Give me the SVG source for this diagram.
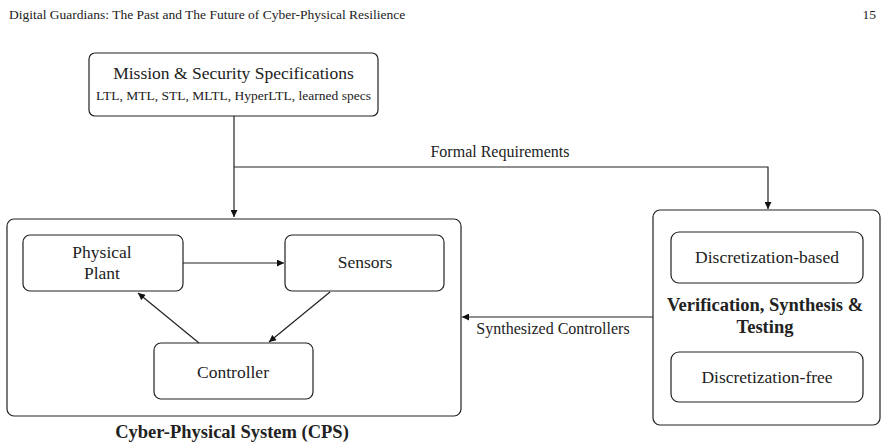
<svg xmlns="http://www.w3.org/2000/svg" width="888" height="447" viewBox="0 0 888 447">
<style>
text{font-family:'Liberation Serif','DejaVu Serif',serif;fill:#222}
.box{fill:#fff;stroke:#222;stroke-width:1.2}
.ln{fill:none;stroke:#222;stroke-width:1.2}
.n{font-size:17.5px;text-anchor:middle}
.b{font-size:18.5px;font-weight:bold;text-anchor:middle}
.l{font-size:16px}
</style>
<defs>
<marker id="ah" viewBox="0 0 10 10" refX="10" refY="5" markerWidth="8" markerHeight="7" markerUnits="userSpaceOnUse" orient="auto">
<path d="M0,0 L10,5 L0,10 z" fill="#111"/>
</marker>
</defs>
<rect width="888" height="447" fill="#fff"/>
<text x="9" y="19" font-size="13.5">Digital Guardians: The Past and The Future of Cyber-Physical Resilience</text>
<text x="876" y="19" font-size="13.5" text-anchor="end">15</text>

<g id="specs">
<rect class="box" x="89" y="53" width="289" height="63" rx="6"/>
<text class="n" x="233.5" y="79">Mission &amp; Security Specifications</text>
<text x="233.5" y="100" font-size="13.5" text-anchor="middle">LTL, MTL, STL, MLTL, HyperLTL, learned specs</text>
</g>

<g id="cps">
<rect class="box" x="7" y="219" width="454" height="197" rx="7"/>
<text class="b" x="232" y="438">Cyber-Physical System (CPS)</text>
</g>

<g id="plant">
<rect class="box" x="23" y="235" width="160" height="56" rx="7"/>
<text class="n" x="102" y="258">Physical</text>
<text class="n" x="102" y="279">Plant</text>
</g>

<g id="sensors">
<rect class="box" x="285" y="235" width="159" height="56" rx="7"/>
<text class="n" x="365" y="268">Sensors</text>
</g>

<g id="controller">
<rect class="box" x="154" y="343" width="159" height="56" rx="7"/>
<text class="n" x="233" y="378">Controller</text>
</g>

<g id="vst">
<rect class="box" x="653" y="210" width="227" height="215" rx="7"/>
<text class="b" x="765" y="311">Verification, Synthesis &amp;</text>
<text class="b" x="765" y="333">Testing</text>
</g>

<g id="disc-based">
<rect class="box" x="671" y="232" width="192" height="51" rx="8"/>
<text class="n" x="767" y="263">Discretization-based</text>
</g>

<g id="disc-free">
<rect class="box" x="671" y="352" width="192" height="50" rx="8"/>
<text class="n" x="767" y="383">Discretization-free</text>
</g>

<g id="connectors">
<path class="ln" d="M234,116 V217" marker-end="url(#ah)"/>
<path class="ln" d="M234,167 H768 V209" marker-end="url(#ah)"/>
<text class="l" x="500" y="157" text-anchor="middle">Formal Requirements</text>
<path class="ln" d="M653,317 H462" marker-end="url(#ah)"/>
<text class="l" x="553" y="334" text-anchor="middle">Synthesized Controllers</text>
<path class="ln" d="M183,263 H284" marker-end="url(#ah)"/>
<path class="ln" d="M330,292 L269,342" marker-end="url(#ah)"/>
<path class="ln" d="M199,343 L138,293" marker-end="url(#ah)"/>
</g>
</svg>
